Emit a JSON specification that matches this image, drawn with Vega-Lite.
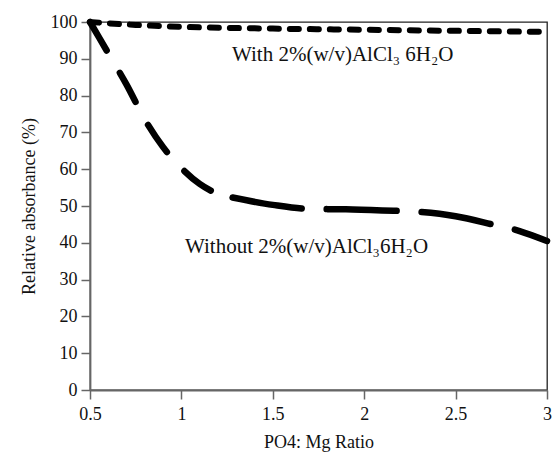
{
  "$schema": "https://vega.github.io/schema/vega-lite/v6.json",
  "autosize": "none",
  "width": 457,
  "height": 368,
  "padding": {"left": 90, "top": 22, "right": 5, "bottom": 68},
  "background": "white",
  "datasets": {
    "with": [
      {"ratio": 0.5, "abs": 100},
      {"ratio": 0.75, "abs": 99.2},
      {"ratio": 1.0, "abs": 98.7},
      {"ratio": 1.5, "abs": 98.2},
      {"ratio": 2.0, "abs": 97.9},
      {"ratio": 2.5, "abs": 97.6},
      {"ratio": 3.0, "abs": 97.3}
    ],
    "without": [
      {"ratio": 0.5, "abs": 100},
      {"ratio": 0.6, "abs": 91.5},
      {"ratio": 0.7, "abs": 83},
      {"ratio": 0.8, "abs": 73.5},
      {"ratio": 0.9, "abs": 66},
      {"ratio": 1.0, "abs": 60.3},
      {"ratio": 1.1, "abs": 56},
      {"ratio": 1.17, "abs": 53.9},
      {"ratio": 1.28, "abs": 52.3},
      {"ratio": 1.5, "abs": 50.3},
      {"ratio": 1.7, "abs": 49.2},
      {"ratio": 1.9, "abs": 49.1},
      {"ratio": 2.1, "abs": 48.8},
      {"ratio": 2.3, "abs": 48.4},
      {"ratio": 2.5, "abs": 47.2},
      {"ratio": 2.7, "abs": 45},
      {"ratio": 2.85, "abs": 43.2},
      {"ratio": 3.0, "abs": 40.5}
    ],
    "labels": [
      {"ratio": 1.277, "abs": 89.3, "label": "With 2%(w/v)AlCl₃ 6H₂O"},
      {"ratio": 1.02, "abs": 37.3, "label": "Without 2%(w/v)AlCl₃6H₂O"}
    ]
  },
  "config": {
    "font": "Liberation Serif",
    "view": {"stroke": "#222", "strokeWidth": 1.3}
  },
  "encoding": {
    "x": {"field": "ratio", "type": "quantitative", "scale": {"domain": [0.5, 3]},
          "axis": {"values": [0.5, 1, 1.5, 2, 2.5, 3], "format": "~g", "labelFlush": false, "title": "PO4: Mg Ratio",
                   "grid": false, "domainColor": "#666", "domainWidth": 1.8, "tickColor": "#666", "tickWidth": 1.5, "tickSize": 9,
                   "labelFont": "Liberation Serif", "labelFontSize": 18, "labelColor": "#111", "labelPadding": 6,
                   "titleFont": "Liberation Serif", "titleFontSize": 18, "titleFontWeight": "normal", "titleColor": "#111", "titlePadding": 10}},
    "y": {"field": "abs", "type": "quantitative", "scale": {"domain": [0, 100]},
          "axis": {"values": [0, 10, 20, 30, 40, 50, 60, 70, 80, 90, 100], "title": "Relative absorbance (%)", "labelOverlap": false, "labelFlush": false,
                   "grid": false, "domainColor": "#666", "domainWidth": 1.8, "tickColor": "#666", "tickWidth": 1.5, "tickSize": 9,
                   "labelFont": "Liberation Serif", "labelFontSize": 18, "labelColor": "#111", "labelPadding": 4,
                   "titleFont": "Liberation Serif", "titleFontSize": 18, "titleFontWeight": "normal", "titleColor": "#111", "titlePadding": 12}}
  },
  "layer": [
    {
      "data": {"name": "with"},
      "mark": {"type": "line", "color": "black", "strokeWidth": 6, "strokeDash": [9, 11], "strokeCap": "round", "interpolate": "monotone"}
    },
    {
      "data": {"name": "without"},
      "transform": [{"filter": "datum.ratio <= 1.17"}],
      "mark": {"type": "line", "color": "black", "strokeWidth": 6.5, "strokeDash": [33, 26], "strokeCap": "round", "interpolate": "monotone"}
    },
    {
      "data": {"name": "without"},
      "transform": [{"filter": "datum.ratio >= 1.28"}],
      "mark": {"type": "line", "color": "black", "strokeWidth": 6.5, "strokeDash": [70, 25], "strokeCap": "round", "interpolate": "monotone"}
    },
    {
      "data": {"name": "labels"},
      "mark": {"type": "text", "font": "Liberation Serif", "fontSize": 21, "color": "#111", "align": "left", "baseline": "alphabetic"},
      "encoding": {
        "text": {"field": "label"}
      }
    }
  ]
}
